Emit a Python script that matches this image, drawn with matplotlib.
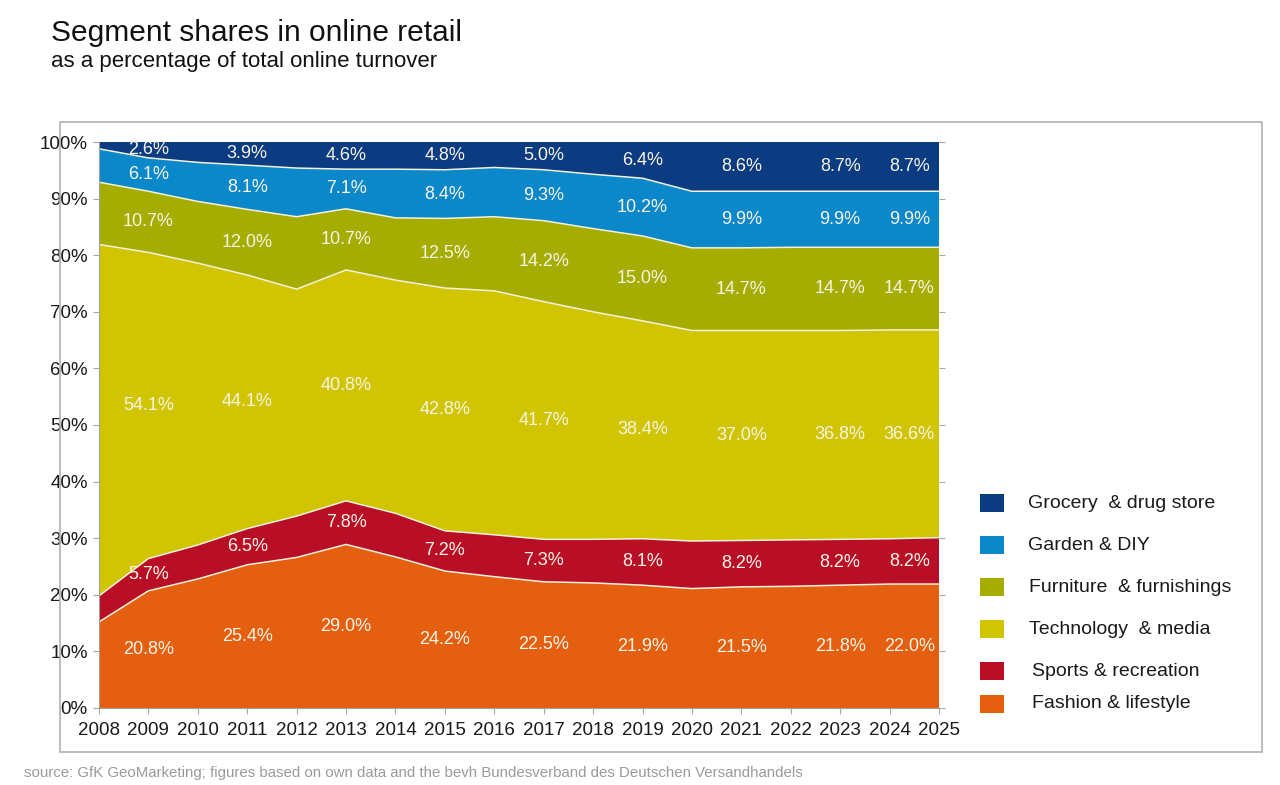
import numpy as np
import matplotlib.pyplot as plt
from matplotlib.patches import Rectangle

plt.rcParams['font.family'] = ['Liberation Sans', 'DejaVu Sans']

years = list(range(2008, 2026))
fashion = [15.2, 20.7, 22.8, 25.3, 26.6, 28.9, 26.7, 24.2, 23.2, 22.3, 22.1, 21.7, 21.1, 21.4, 21.5, 21.7, 21.9, 21.9]
sports = [4.6, 5.7, 6.0, 6.4, 7.3, 7.7, 7.7, 7.1, 7.4, 7.5, 7.7, 8.2, 8.4, 8.2, 8.2, 8.1, 8.0, 8.2]
tech = [62.1, 54.1, 49.8, 44.8, 40.1, 40.8, 41.2, 42.9, 43.1, 42.0, 40.2, 38.5, 37.2, 37.1, 37.0, 36.9, 36.9, 36.7]
furniture = [11.0, 10.8, 10.9, 11.6, 12.8, 10.8, 11.0, 12.3, 13.1, 14.3, 14.7, 15.0, 14.6, 14.6, 14.7, 14.7, 14.6, 14.6]
garden = [5.9, 5.9, 6.9, 7.8, 8.6, 7.0, 8.6, 8.6, 8.7, 9.0, 9.6, 10.2, 10.0, 10.0, 9.9, 9.9, 9.9, 9.9]
grocery = [1.2, 2.8, 3.6, 4.1, 4.6, 4.8, 4.8, 4.9, 4.5, 4.9, 5.7, 6.4, 8.7, 8.7, 8.7, 8.7, 8.7, 8.7]

# printed labels
label_years = [2009, 2011, 2013, 2015, 2017, 2019, 2021, 2023, 2024]
lab_fashion = ['20.8%', '25.4%', '29.0%', '24.2%', '22.5%', '21.9%', '21.5%', '21.8%', '22.0%']
lab_sports = ['5.7%', '6.5%', '7.8%', '7.2%', '7.3%', '8.1%', '8.2%', '8.2%', '8.2%']
lab_tech = ['54.1%', '44.1%', '40.8%', '42.8%', '41.7%', '38.4%', '37.0%', '36.8%', '36.6%']
lab_furniture = ['10.7%', '12.0%', '10.7%', '12.5%', '14.2%', '15.0%', '14.7%', '14.7%', '14.7%']
lab_garden = ['6.1%', '8.1%', '7.1%', '8.4%', '9.3%', '10.2%', '9.9%', '9.9%', '9.9%']
lab_grocery = ['2.6%', '3.9%', '4.6%', '4.8%', '5.0%', '6.4%', '8.6%', '8.7%', '8.7%']

names = ['Fashion & lifestyle', 'Sports & recreation', 'Technology  & media',
         'Furniture  & furnishings', 'Garden & DIY', 'Grocery  & drug store']
colors = ['#e45f10', '#b80f27', '#d0c500', '#a4ad00', '#0a88ca', '#0b3b81']

series = [fashion, sports, tech, furniture, garden, grocery]
labels = [lab_fashion, lab_sports, lab_tech, lab_furniture, lab_garden, lab_grocery]

W, H = 1280, 785
fig = plt.figure(figsize=(12.8, 7.85), dpi=100)
fig.patches.append(Rectangle((0.047, 0.042), 0.939, 0.803, transform=fig.transFigure,
                             fill=False, edgecolor='#b0b0b0', lw=1.2))

ax = fig.add_axes([0.0773, 0.0981, 0.6563, 0.7210])
ax.stackplot(years, *series, colors=colors, lw=0)

cum = np.cumsum(np.array(series), axis=0)
for row in cum[:-1]:
    ax.plot(years, row, color='#f4f0dc', lw=1.1)

for i, (vals, labs) in enumerate(zip(series, labels)):
    lower = cum[i] - np.array(vals)
    mid = (lower + cum[i]) / 2
    for yr, txt in zip(label_years, labs):
        k = years.index(yr)
        x = yr + (0.4 if yr == 2024 else 0)
        ax.text(x, mid[k], txt, ha='center', va='center', color='#f8f4e6', fontsize=13)

ax.set_xlim(2008, 2025)
ax.set_ylim(0, 100)
ax.set_xticks(years)
ax.set_yticks(range(0, 101, 10))
ax.set_yticklabels([f'{v}%' for v in range(0, 101, 10)])
ax.tick_params(axis='both', labelsize=13.5, length=4, color='#a8a8a8', labelcolor='#1a1a1a')
ax.tick_params(axis='y', right=True, pad=4)
ax.tick_params(axis='x', pad=6)
for s in ['top', 'right']:
    ax.spines[s].set_visible(False)
for s in ['left', 'bottom']:
    ax.spines[s].set_color('#a0a0a0')

# legend drawn by hand: top entry first
leg_rows = [503, 545, 587, 629, 671, 704]
for name, col, yp, tx in zip(names[::-1], colors[::-1], leg_rows, [1028, 1028, 1029, 1029, 1032, 1032]):
    fig.patches.append(Rectangle((980 / W, 1 - (yp + 9) / H), 24 / W, 18 / H,
                                 transform=fig.transFigure, facecolor=col, edgecolor='none'))
    fig.text(tx / W, 1 - yp / H, name, fontsize=14, color='#1a1a1a', va='center')

fig.text(51 / W, 1 - 41 / H, 'Segment shares in online retail', fontsize=21.5, color='#111111')
fig.text(51 / W, 1 - 67 / H, 'as a percentage of total online turnover', fontsize=16, color='#111111')
fig.text(24 / W, 1 - 777 / H,
         'source: GfK GeoMarketing; figures based on own data and the bevh Bundesverband des Deutschen Versandhandels',
         fontsize=10.8, color='#9a9a9a')

fig.savefig('out.png', dpi=100)
